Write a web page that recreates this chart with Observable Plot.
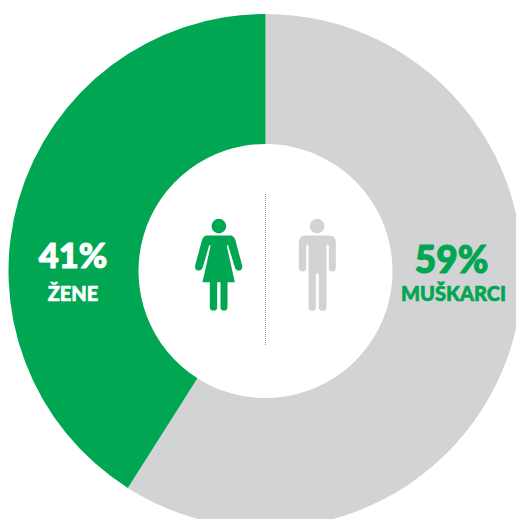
<!DOCTYPE html>
<html><head><meta charset="utf-8">
<script src="https://cdn.jsdelivr.net/npm/d3@7"></script>
<script src="https://cdn.jsdelivr.net/npm/@observablehq/plot@0.6"></script>
<style>
html,body{margin:0;padding:0;background:#fff;overflow:hidden}
svg{display:block}
</style></head><body><div id="chart"></div>
<script>
const categories = ["MUŠKARCI", "ŽENE"];
const shares = [59, 41];
const shareLabels = ["59%", "41%"];
const sliceColors = ["#d1d3d4", "#00a651"];
const labelColors = ["#00a651", "#ffffff"];
const labelX = [451, 72.5];
const nameX = [453, 72.5];
const pctBaseline = [272, 267];
const pctSize = [37, 34.5];
const nameBaseline = [300, 300];

const cx = 265, cy = 270.5, outer = 257, inner = 127;
const arcs = d3.pie().sort(null)(shares);
const sector = a => ({draw(ctx){
  d3.arc().context(ctx)({innerRadius: inner, outerRadius: outer, startAngle: a.startAngle, endAngle: a.endAngle});
}});
const center = [{x: cx, y: cy}];

const iconOrigin = [{x: 180, y: 185}];
function iconShape(headX, body){
  return {draw(c){
    const p = (x,y) => [x/3, y/3];
    const [hx,hy] = p(headX,122);
    c.moveTo(hx+22/3,hy); c.arc(hx,hy,22/3,0,2*Math.PI); c.closePath();
    body(c,p);
    c.closePath();
  }};
}
const poly = (c,p,cmds) => {
  for (const [k,...v] of cmds) {
    if (k==="M") c.moveTo(...p(v[0],v[1]));
    else if (k==="L") c.lineTo(...p(v[0],v[1]));
    else if (k==="Q") c.quadraticCurveTo(...p(v[0],v[1]),...p(v[2],v[3]));
  }
};
const female = iconShape(115,(c,p)=>poly(c,p,[
 ["M",80,150],["L",150,150],["Q",160,150,165,165],["L",185,240],["Q",187,254,175,255],["Q",166,255,163,245],
 ["L",143,180],["Q",140,176,139,182],["L",163,290],["L",141,290],["L",141,365],["Q",141,375,130.5,375],["Q",120,375,120,365],
 ["L",120,290],["L",110,290],["L",110,365],["Q",110,375,99,375],["Q",88,375,88,365],["L",88,290],["L",66,290],
 ["L",90,182],["Q",89,176,86,180],["L",67,245],["Q",63,255,54,255],["Q",42,254,44,240],["L",64,165],["Q",69,150,80,150]
]));
const male = iconShape(410,(c,p)=>poly(c,p,[
 ["M",375,150],["L",446,150],["Q",466,150,466,172],["L",466,247],["Q",466,258,455.5,258],["Q",445,258,445,247],
 ["L",445,182],["Q",445,177,441,177],["Q",438,177,438,182],["L",438,365],["Q",438,376,426.5,376],["Q",415,376,415,365],
 ["L",415,270],["Q",415,264,410.5,264],["Q",406,264,406,270],["L",406,365],["Q",406,376,395,376],["Q",384,376,384,365],
 ["L",384,182],["Q",384,177,381,177],["Q",377,177,377,182],["L",377,247],["Q",377,258,366,258],["Q",355,258,355,247],
 ["L",355,172],["Q",355,150,375,150]
]));
const iconMark = (shape, fill) => Plot.vector(iconOrigin, {x:"x", y:"y", length:1, anchor:"start", shape, fill, stroke:"none"});

const rows = categories.map((name,i)=>({name, pct: shareLabels[i], lx: labelX[i], nx: nameX[i], py: pctBaseline[i], ny: nameBaseline[i], size: pctSize[i], color: labelColors[i]}));
const font = "Lato, 'Open Sans', sans-serif";

const chart = Plot.plot({
  width: 516, height: 519, margin: 0,
  x: {domain: [0,516], range: [0,516], axis: null},
  y: {domain: [0,519], range: [0,519], axis: null},
  style: {background: "#fff"},
  marks: [
    ...arcs.map((a,i)=>Plot.vector(center,{x:"x",y:"y",length:1,anchor:"start",shape:sector(a),fill:sliceColors[i],stroke:"none"})),
    Plot.ruleX([265],{y1:194,y2:346,stroke:"#777",strokeWidth:0.8,strokeDasharray:"1,1"}),
    iconMark(female,"#00a651"),
    iconMark(male,"#d1d3d4"),
    ...rows.map(r=>Plot.text([r],{x:"lx",y:"py",text:"pct",fill:r.color,stroke:r.color,strokeWidth:1.1,fontFamily:font,fontWeight:900,fontSize:r.size,lineAnchor:"bottom",textAnchor:"middle"})),
    Plot.text(rows,{x:"nx",y:"ny",text:"name",fill:d=>d.color,stroke:d=>d.color,strokeWidth:0.6,fontFamily:font,fontWeight:900,fontSize:20,lineAnchor:"bottom",textAnchor:"middle"})
  ]
});
document.getElementById("chart").append(chart);
</script></body></html>
